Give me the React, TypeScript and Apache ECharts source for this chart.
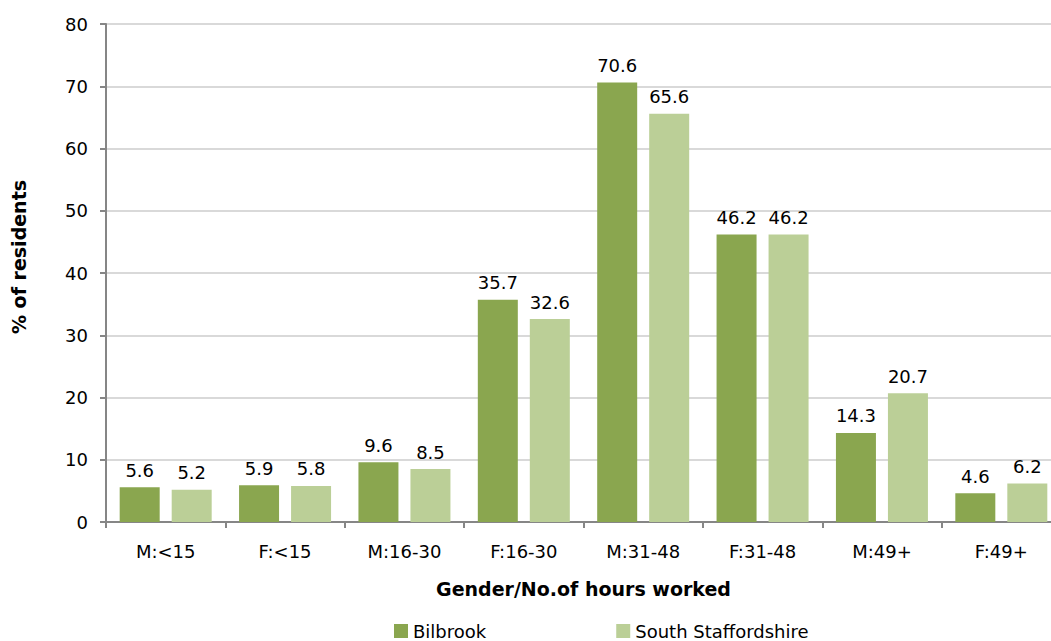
import React, { useEffect, useRef } from "react";
import * as echarts from "echarts";

const categories = ["M:<15", "F:<15", "M:16-30", "F:16-30", "M:31-48", "F:31-48", "M:49+", "F:49+"];
const bilbrook = [5.6, 5.9, 9.6, 35.7, 70.6, 46.2, 14.3, 4.6];
const southStaffs = [5.2, 5.8, 8.5, 32.6, 65.6, 46.2, 20.7, 6.2];
const seriesNames = ["Bilbrook", "South Staffordshire"];
const colors = ["#8aa64f", "#bbcf97"];

const FONT = "DejaVu Sans, Verdana, sans-serif";

export default function App() {
  const ref = useRef<HTMLDivElement>(null);
  useEffect(() => {
    document.body.style.margin = "0";
    document.body.style.overflow = "hidden";
    const chart = echarts.init(ref.current!, null, { renderer: "svg" });
    const label = {
      show: true,
      position: "top",
      distance: 8,
      color: "#000",
      fontFamily: FONT,
      fontSize: 18,
      formatter: (p: any) => p.value.toFixed(1),
    };
    chart.setOption({
      animation: false,
      textStyle: { fontFamily: FONT },
      grid: { left: 106, top: 24, right: 0, bottom: 119, containLabel: false },
      legend: {
        left: 389,
        top: 616,
        itemWidth: 14,
        itemHeight: 14,
        itemGap: 130,
        icon: "rect",
        textStyle: { fontFamily: FONT, fontSize: 18, color: "#000", lineHeight: 20 },
        data: seriesNames,
      },
      xAxis: {
        type: "category",
        data: categories,
        name: "Gender/No.of hours worked",
        nameLocation: "middle",
        nameGap: 57,
        nameTextStyle: { fontFamily: FONT, fontSize: 19, fontWeight: "bold", color: "#000" },
        axisLine: { lineStyle: { color: "#868686", width: 2 } },
        axisTick: { show: true, length: 6, lineStyle: { color: "#868686", width: 2 } },
        axisLabel: { fontFamily: FONT, fontSize: 18, color: "#000", margin: 20 },
      },
      yAxis: {
        type: "value",
        min: 0,
        max: 80,
        interval: 10,
        name: "% of residents",
        nameLocation: "middle",
        nameGap: 78,
        nameRotate: 90,
        nameTextStyle: { fontFamily: FONT, fontSize: 19, fontWeight: "bold", color: "#000", padding: [0, 0, 0, 32] },
        axisLine: { show: true, lineStyle: { color: "#868686", width: 2 } },
        axisTick: { show: true, length: 6, lineStyle: { color: "#868686", width: 2 } },
        axisLabel: { fontFamily: FONT, fontSize: 18, color: "#000", margin: 18 },
        splitLine: { show: true, lineStyle: { color: "#d9d9d9", width: 2 } },
      },
      series: [
        {
          name: seriesNames[0],
          type: "bar",
          data: bilbrook,
          barWidth: 40,
          barGap: "30%",
          itemStyle: { color: colors[0] },
          label,
        },
        {
          name: seriesNames[1],
          type: "bar",
          data: southStaffs,
          barWidth: 40,
          barGap: "30%",
          itemStyle: { color: colors[1] },
          label,
        },
      ],
    });
    return () => chart.dispose();
  }, []);
  return <div ref={ref} style={{ width: 1061, height: 641 }} />;
}
